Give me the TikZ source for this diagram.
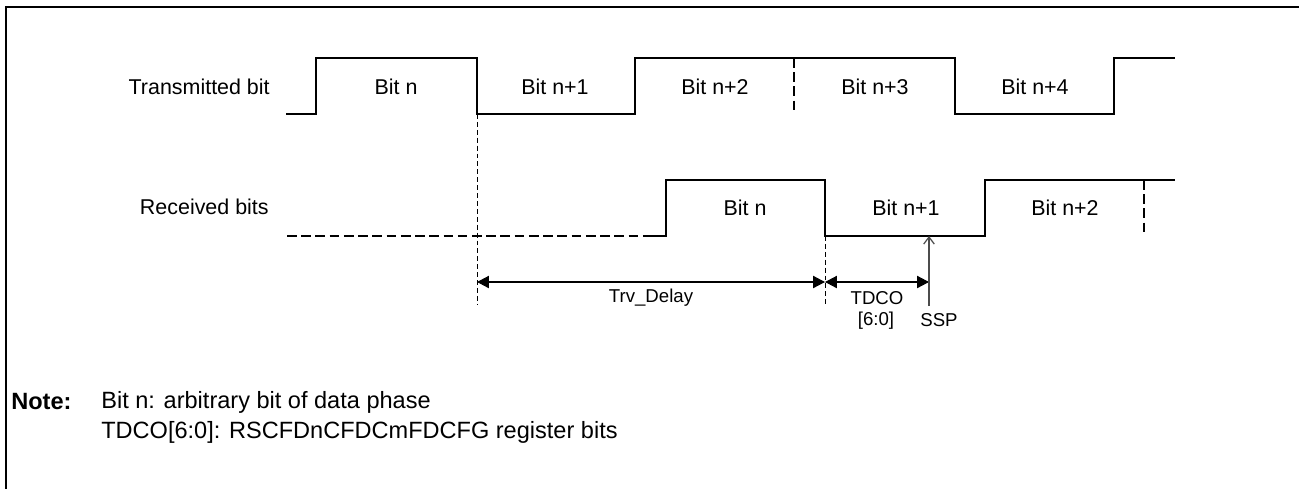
\documentclass[tikz,border=0pt]{standalone}
\usepackage{fontspec}
\setmainfont{Liberation Sans}
\usetikzlibrary{arrows.meta}

\newcommand{\lblsize}{\fontsize{12.2}{14}\selectfont}
\newcommand{\dimsize}{\fontsize{10.6}{12}\selectfont}
\newcommand{\notesize}{\fontsize{13.4}{16}\selectfont}

\begin{document}
\begin{tikzpicture}[
  x=0.02cm, y=-0.02cm,
  font=\lblsize,
  every node/.style={inner sep=0pt},
  wave/.style={line width=1.1pt},
  wavedash/.style={line width=1.1pt, dash pattern=on 5.5pt off 2.6pt},
  guide/.style={line width=0.55pt, dash pattern=on 2.8pt off 1.7pt},
  dim/.style={line width=0.6pt, {Triangle[length=6.8pt,width=7pt]}-{Triangle[length=6.8pt,width=7pt]}},
  dimlbl/.style={font=\dimsize},
  ssparrow/.style={line width=0.7pt, draw=black!70, -{Straight Barb[length=4pt,width=6pt]}},
  notetxt/.style={anchor=west, font=\notesize}
]
\clip (0,0) rectangle (1299,488);
% frame, cut off on the right and at the bottom
\draw[line width=1.5pt] (6,520) -- (6,7) -- (1320,7);

% transmitted bit
\node[anchor=east] (tx) at (270,87) {Transmitted bit};
\draw[wave] (286,114) -- (316,114) -- (316,58) -- (477,58) -- (477,114) -- (635,114)
  -- (635,58) -- (955,58) -- (955,114) -- (1114,114) -- (1114,58) -- (1175,58);
\draw[wavedash] (794,58) -- (794,114);
\foreach \t/\x [count=\i] in {Bit n/396, Bit n+1/555, Bit n+2/715, Bit n+3/875, Bit n+4/1035}
  \node (tb\i) at (\x,87) {\t};

% received bits
\node[anchor=east] (rx) at (269,207) {Received bits};
\draw[wavedash] (287,236) -- (645,236);
\draw[wave] (645,236) -- (666,236) -- (666,180) -- (825,180) -- (825,236) -- (985,236)
  -- (985,180) -- (1175,180);
\draw[wavedash] (1144,180) -- (1144,236);
\foreach \t/\x [count=\i] in {Bit n/745, Bit n+1/906, Bit n+2/1065}
  \node (rb\i) at (\x,208) {\t};

% delay and offset
\coordinate (txedge) at (477,114);
\coordinate (rxedge) at (825,236);
\coordinate (ssp) at (929,236);
\coordinate (txfoot) at (477,304);
\coordinate (rxfoot) at (825,306);
\coordinate (sspfoot) at (929,306);
\coordinate (d1) at (477,282);
\coordinate (d2) at (825,282);
\coordinate (d3) at (929,282);
\draw[guide] (txedge) -- (txfoot);
\draw[guide] (rxedge) -- (rxfoot);
\draw[dim] (d1) -- (d2);
\draw[dim] (d2) -- (d3);
\draw[ssparrow] (sspfoot) -- (ssp);
\node[dimlbl] (trv) at (651,298) {Trv\_Delay};
\node[dimlbl] (tdco) at (877,298) {TDCO};
\node[dimlbl] (tdcobits) at (876,321) {[6:0]};
\node[dimlbl] (ssplbl) at (939,320) {SSP};

% note
\node[notetxt, font=\notesize\bfseries] (note) at (11,402) {Note:};
\node[notetxt] (note1) at (101,402) {Bit n: arbitrary bit of data phase};
\node[notetxt] (note2) at (101,432) {TDCO[6:0]: RSCFDnCFDCmFDCFG register bits};
\end{tikzpicture}
\end{document}
